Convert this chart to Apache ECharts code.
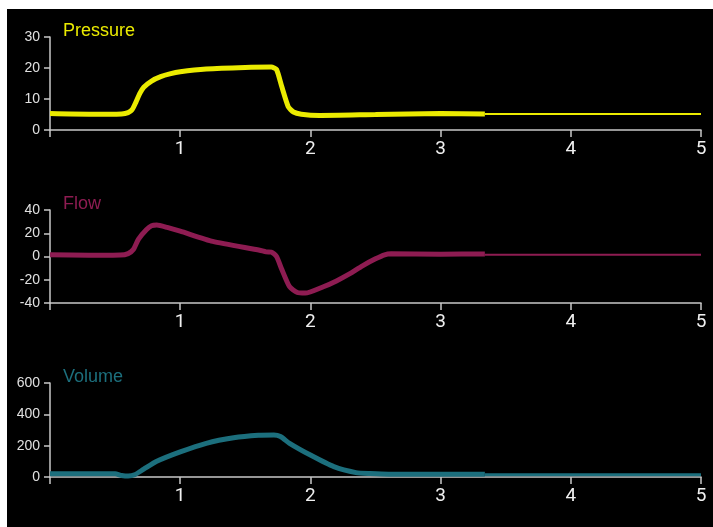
<!DOCTYPE html>
<html>
<head>
<meta charset="utf-8">
<script src="https://cdn.jsdelivr.net/npm/echarts@6/dist/echarts.min.js"></script>
<style>
  html, body { margin: 0; padding: 0; background: #fff; }
  #chart { position: absolute; left: 7px; top: 9px; width: 706px; height: 518px; background: #000; }
</style>
</head>
<body>
<div id="chart"></div>
<script>
// x tick values (seconds)
var xTicks = [0, 1, 2, 3, 4, 5];

// Pressure
var pressureTime = [0, 0.3, 0.55, 0.6, 0.63, 0.66, 0.69, 0.72, 0.78, 0.85, 0.92, 1.0, 1.2, 1.5, 1.7, 1.74, 1.78, 1.83, 1.87, 1.93, 2.07, 2.5, 3.0, 3.34];
var pressureValues = [5.3, 5.1, 5.2, 5.6, 6.5, 9, 11.8, 13.8, 15.8, 17.2, 18.1, 18.8, 19.7, 20.2, 20.3, 19.5, 14, 7.5, 5.8, 5.1, 4.7, 5.0, 5.3, 5.2];
var pressureTailTime = [3.34, 4, 5];
var pressureTailValues = [5.2, 5.2, 5.2];

// Flow
var flowTime = [0, 0.3, 0.54, 0.6, 0.64, 0.68, 0.74, 0.78, 0.82, 0.9, 1.0, 1.25, 1.61, 1.66, 1.7, 1.74, 1.78, 1.84, 1.9, 1.96, 2.1, 2.2, 2.3, 2.4, 2.5, 2.57, 2.62, 3.0, 3.34];
var flowValues = [1.5, 1, 1.2, 2.5, 6, 15, 23, 26.5, 27, 25, 21.8, 13, 5.4, 4, 3.8, 0, -11, -26, -31, -31.5, -26, -21, -15, -8, -2, 1.5, 2.3, 2, 2.2];
var flowTailTime = [3.34, 4, 5];
var flowTailValues = [1.5, 1.5, 1.5];

// Volume
var volumeTime = [0, 0.3, 0.5, 0.55, 0.6, 0.65, 0.72, 0.82, 1.0, 1.2, 1.41, 1.6, 1.72, 1.77, 1.84, 2.0, 2.18, 2.35, 2.46, 2.6, 3.0, 3.34];
var volumeValues = [20, 20, 20, 10, 6, 14, 50, 100, 160, 215, 250, 266, 268, 258, 215, 140, 66, 28, 22, 18, 18, 18];
var volumeTailTime = [3.34, 4, 5];
var volumeTailValues = [14, 14, 14];

function pairs(t, v) {
  var out = [];
  for (var i = 0; i < t.length; i++) {
    out.push([t[i], v[i]]);
  }
  return out;
}

var colors = ["#ebeb00", "#8e1c52", "#1c6f7d"];
var names = ["Pressure", "Flow", "Volume"];
var grids = [
  { left: 43, top: 28, width: 651, height: 93 },
  { left: 43, top: 201, width: 651, height: 93 },
  { left: 43, top: 374, width: 651, height: 94 }
];
var yRanges = [[0, 30, 10], [-40, 40, 20], [0, 600, 200]];
var titleTops = [8, 181, 354];

var chart = echarts.init(document.getElementById("chart"));

var xAxes = [], yAxes = [], titles = [], series = [];
for (var i = 0; i < 3; i++) {
  xAxes.push({
    type: "value",
    gridIndex: i,
    min: xTicks[0],
    max: xTicks[xTicks.length - 1],
    interval: 1,
    axisLine: { onZero: false, lineStyle: { color: "#c8c8c8", width: 1.5 } },
    axisTick: { length: 7, lineStyle: { color: "#c8c8c8", width: 1.5 } },
    axisLabel: {
      color: "#f0f0f0",
      fontSize: 19,
      margin: 10,
      fontFamily: "Roboto, sans-serif",
      formatter: function (v) { return v === 0 ? "" : String(v); }
    },
    splitLine: { show: false }
  });
  yAxes.push({
    type: "value",
    gridIndex: i,
    min: yRanges[i][0],
    max: yRanges[i][1],
    interval: yRanges[i][2],
    axisLine: { show: true, lineStyle: { color: "#c8c8c8", width: 1.5 } },
    axisTick: { show: true, length: 6, lineStyle: { color: "#c8c8c8", width: 1.5 } },
    axisLabel: { color: "#e0e0e0", fontSize: 14, margin: 10, fontFamily: "Liberation Sans, Arial, sans-serif" },
    splitLine: { show: false }
  });
  titles.push({
    text: names[i],
    left: 51,
    top: titleTops[i],
    textStyle: { color: colors[i], fontSize: 18, fontWeight: "normal", fontFamily: "Liberation Sans, Arial, sans-serif" }
  });
}

var mainData = [pairs(pressureTime, pressureValues), pairs(flowTime, flowValues), pairs(volumeTime, volumeValues)];
var tailData = [pairs(pressureTailTime, pressureTailValues), pairs(flowTailTime, flowTailValues), pairs(volumeTailTime, volumeTailValues)];
var tailWidths = [2, 2, 3];

for (var k = 0; k < 3; k++) {
  series.push({
    type: "line",
    xAxisIndex: k,
    yAxisIndex: k,
    data: mainData[k],
    smooth: 0.2,
    showSymbol: false,
    lineStyle: { color: colors[k], width: 5 },
    z: 1
  });
  series.push({
    type: "line",
    xAxisIndex: k,
    yAxisIndex: k,
    data: tailData[k],
    showSymbol: false,
    lineStyle: { color: colors[k], width: tailWidths[k] },
    z: 1
  });
}

var option = {
  backgroundColor: "#000",
  animation: false,
  title: titles,
  grid: grids,
  xAxis: xAxes,
  yAxis: yAxes,
  series: series
};
chart.setOption(option);
window.addEventListener("resize", function () {
  chart.resize();
});
</script>
</body>
</html>
